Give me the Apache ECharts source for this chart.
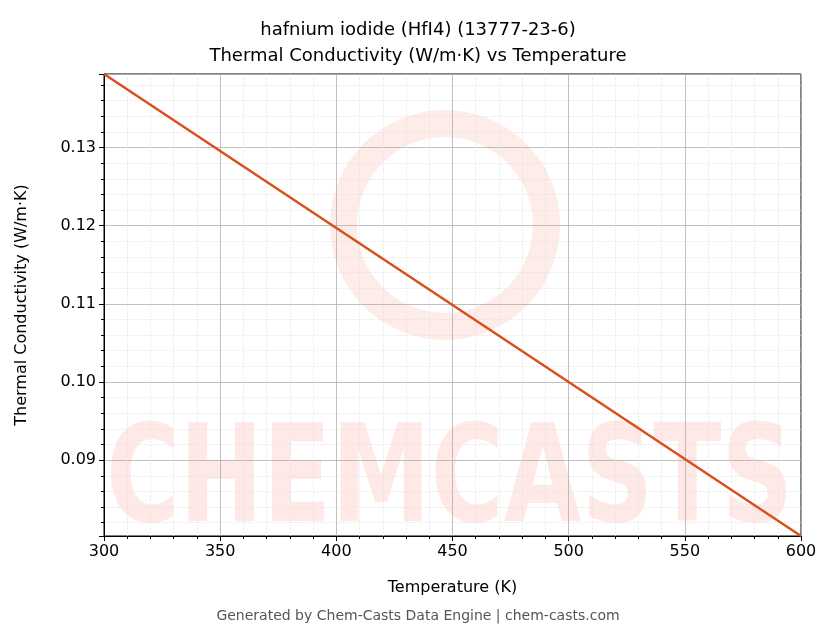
<!DOCTYPE html>
<html><head><meta charset="utf-8">
<script src="https://cdn.jsdelivr.net/npm/echarts@6/dist/echarts.min.js"></script>
<style>html,body{margin:0;padding:0;background:#fff}#c{width:836px;height:644px}</style>
</head><body><div id="c"></div>
<script>
const temperatures = [300, 400, 500, 600];
const conductivity = [0.1394, 0.1197, 0.1000, 0.0803];
const titleLines = ['hafnium iodide (HfI4) (13777-23-6)', 'Thermal Conductivity (W/m·K) vs Temperature'];
const xLabel = 'Temperature (K)';
const yLabel = 'Thermal Conductivity (W/m·K)';
const footer = 'Generated by Chem-Casts Data Engine | chem-casts.com';

const chart = echarts.init(document.getElementById('c'));
const axisCommon = {
  axisLine: { show: true, onZero: false, lineStyle: { color: '#000', width: 1 } },
  axisTick: { show: true, inside: false, length: 5, lineStyle: { color: '#000' } },
  minorTick: { show: true, splitNumber: 5, length: 3, lineStyle: { color: '#000' } },
  splitLine: { show: true, lineStyle: { color: '#b0b0b0', width: 0.8 } },
  minorSplitLine: { show: true, lineStyle: { color: '#e0e0e0', width: 0.6, type: 'dashed' } },
  axisLabel: { color: '#000', fontSize: 16, fontFamily: 'DejaVu Sans' },
  nameTextStyle: { color: '#000', fontSize: 16, fontFamily: 'DejaVu Sans' }
};
chart.setOption({
  animation: false,
  title: {
    text: titleLines.join('\n'), left: 'center', top: 12,
    textStyle: { fontSize: 18, fontWeight: 'normal', color: '#000', fontFamily: 'DejaVu Sans', lineHeight: 26 }
  },
  graphic: [
    { type: 'text', left: 'center', top: 609, style: { text: footer, fontSize: 14, fill: '#555', fontFamily: 'DejaVu Sans' } },
    { type: 'text', x: 106, y: 418, scaleX: 0.74, z: 0, style: { text: 'CHEMCASTS', fontSize: 135, fontWeight: 'bold', fill: 'rgba(250,120,100,0.16)', fontFamily: 'DejaVu Sans' } },
    { type: 'ring', shape: { cx: 445, cy: 225, r: 115, r0: 88 }, z: 0, style: { fill: 'rgba(250,120,100,0.14)' } }
  ],
  grid: { left: 104, right: 35, top: 74, bottom: 108, show: true, borderColor: '#000', borderWidth: 1, backgroundColor: 'transparent' },
  xAxis: Object.assign({}, axisCommon, {
    type: 'value', min: 300, max: 600, interval: 50,
    name: xLabel, nameLocation: 'middle', nameGap: 44
  }),
  yAxis: Object.assign({}, axisCommon, {
    type: 'value', min: 0.0803, max: 0.1394, splitNumber: 6,
    name: yLabel, nameLocation: 'middle', nameGap: 74,
    axisLabel: Object.assign({}, axisCommon.axisLabel, { showMinLabel: false, showMaxLabel: false, formatter: v => v.toFixed(2) })
  }),
  series: [{
    type: 'line', data: temperatures.map((t, i) => [t, conductivity[i]]),
    showSymbol: false, lineStyle: { color: '#d9501e', width: 2.5 }, z: 5
  }]
});
</script></body></html>
